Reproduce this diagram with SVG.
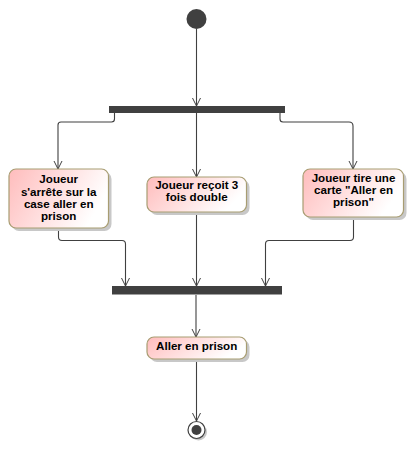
<svg xmlns="http://www.w3.org/2000/svg" width="415" height="451" viewBox="0 0 415 451">
<defs>
<linearGradient id="g" x1="0" y1="0" x2="1" y2="0.35">
<stop offset="0" stop-color="#ffbcbc"/>
<stop offset="1" stop-color="#ffffff"/>
</linearGradient>
<marker id="arr" markerWidth="12" markerHeight="12" viewBox="-10 -6 12 12" refX="0" refY="0" orient="auto" markerUnits="userSpaceOnUse">
<path d="M-8,-4 L0,0 L-8,4" fill="none" stroke="#404040" stroke-width="1"/>
</marker>
</defs>
<style>
.act{fill:url(#g);stroke:#a89d72;stroke-width:1.2}
.sh{fill:#c8c8c8}
.bar{fill:#404040}
.ca{fill:none;stroke:#404040;stroke-width:1.1;marker-end:url(#arr)}
text{font-family:"Liberation Sans",Arial,sans-serif;font-weight:bold;font-size:11.6px;fill:#000;text-anchor:middle}
</style>
<rect width="415" height="451" fill="#ffffff"/>
<g id="connectors">
<path class="ca" d="M196.5,29 V106"/>
<path class="ca" d="M114.5,113 V119 Q114.5,122 111.5,122 H61 Q58,122 58,125 V169"/>
<path class="ca" d="M196.5,113 V177"/>
<path class="ca" d="M280,113 V119 Q280,122 283,122 H349 Q353,122 353,126 V169"/>
<path class="ca" d="M58.5,228 V237 Q58.5,240.5 62,240.5 H122 Q125.5,240.5 125.5,244 V286"/>
<path class="ca" d="M196.5,212 V286"/>
<path class="ca" d="M353.5,217 V237 Q353.5,240.5 350,240.5 H269 Q265.5,240.5 265.5,244 V286"/>
<path class="ca" d="M196,295 V337"/>
<path class="ca" d="M196.5,359 V421"/>
</g>
<g id="initial">
<circle cx="196.5" cy="19" r="10" fill="#404040"/>
</g>
<g id="fork">
<rect class="bar" x="109" y="106" width="176" height="7"/>
</g>
<g id="a1">
<rect class="sh" x="12" y="172" width="99.5" height="59" rx="7"/>
<rect class="act" x="9" y="169" width="99.5" height="59" rx="7"/>
<text x="58.7" y="183.3">Joueur</text>
<text x="58.7" y="195.5">s'arrête sur la</text>
<text x="58.7" y="207.6">case aller en</text>
<text x="58.7" y="219.7">prison</text>
</g>
<g id="a2">
<rect class="sh" x="150" y="180" width="99.5" height="35" rx="7"/>
<rect class="act" x="147" y="177" width="99.5" height="35" rx="7"/>
<text x="196.7" y="189">Joueur reçoit 3</text>
<text x="196.7" y="201.2">fois double</text>
</g>
<g id="a3">
<rect class="sh" x="306" y="172" width="100.5" height="48" rx="7"/>
<rect class="act" x="303" y="169" width="100.5" height="48" rx="7"/>
<text x="353.5" y="182.3">Joueur tire une</text>
<text x="353.5" y="194.3">carte "Aller en</text>
<text x="353.5" y="206.3">prison"</text>
</g>
<g id="join">
<rect class="bar" x="112" y="286" width="170" height="8.5"/>
</g>
<g id="a4">
<rect class="sh" x="150" y="340" width="99.5" height="22" rx="7"/>
<rect class="act" x="147" y="337" width="99.5" height="22" rx="7"/>
<text x="196.7" y="349.5">Aller en prison</text>
</g>
<g id="final">
<circle cx="198.5" cy="432" r="8.5" fill="#c8c8c8"/>
<circle cx="196.5" cy="430" r="8.5" fill="#ffffff" stroke="#404040" stroke-width="1.2"/>
<circle cx="196.5" cy="430" r="5" fill="#404040"/>
</g>
</svg>
